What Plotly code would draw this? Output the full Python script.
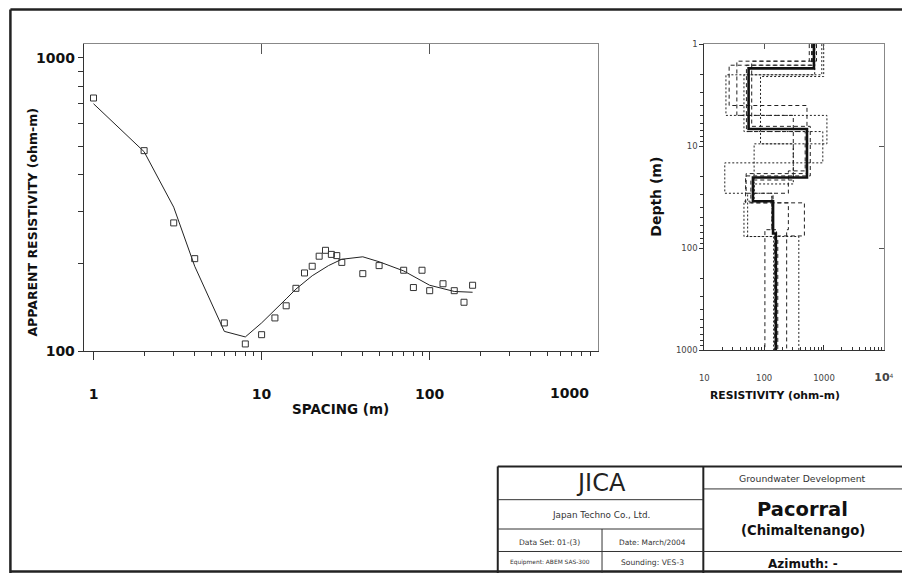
import plotly.graph_objects as go

# ---------------- data ----------------
spacing = [1, 2, 3, 4, 6, 8, 10, 12, 14, 16, 18, 20, 22, 24, 26, 28, 30, 40, 50, 70, 80, 90, 100, 120, 140, 160, 180]
rho_obs = [730, 483, 274, 207, 125, 106, 114, 130, 143, 164, 185, 195, 211, 221, 214, 212, 201, 184, 196, 189, 165, 189, 161, 170, 161, 147, 168]

curve_spacing = [1, 2, 3, 4, 6, 8, 10, 12, 14, 16, 20, 25, 30, 40, 50, 70, 100, 140, 180]
curve_rho = [698, 479, 310, 195, 117, 112, 125, 138, 151, 163, 181, 196, 206, 210, 202, 188, 168, 160, 159]

# layered model (resistivity per layer, depth of layer bottoms)
model_rho = [680, 55, 520, 65, 141, 157]
model_depth = [1.73, 6.8, 20.3, 34.7, 72]

# equivalent models
equiv_rho = [
    [620, 26, 520, 50, 135, 103],
    [920, 46, 956, 22, 53, 144],
    [750, 35, 307, 60, 254, 238],
    [990, 87, 307, 68, 46, 380],
    [568, 62, 590, 49, 471, 169],
    [700, 23, 1120, 68, 135, 160],
    [640, 50.6, 485, 254, 141, 150],
]
equiv_depth = [
    [1.61, 4.0, 18.6, 29, 66],
    [2.0, 7.2, 14.6, 29, 77],
    [1.47, 5.0, 21.5, 36, 66],
    [2.08, 9.5, 23.5, 34.7, 77],
    [1.47, 6.4, 19.6, 36, 76],
    [2.0, 5.0, 9.5, 29, 66],
    [1.61, 7.2, 17.5, 29, 72],
]
depth_top, depth_bottom = 1, 1000

left_xticks = [1, 10, 100]
left_xtick_labels = ["1", "10", "100", "1000"]
left_yticks = [100, 1000]
left_ytick_labels = ["100", "1000"]
right_xticks = [10, 100, 1000, 10000]
right_xtick_labels = ["10", "100", "1000",
                      "<span style='font-size:11px;font-weight:bold'>10</span><sup>4</sup>"]
right_yticks = [1, 10, 100, 1000]
right_ytick_labels = ["1", "10", "100", "1000"]

# ---------------- helpers ----------------
W, H = 912, 581
FONT = "DejaVu Sans"
INK = "#222"


def fx(p):
    return p / W


def fy(p):
    return 1 - p / H


def minors(decades):
    out = []
    for d in decades:
        out += [k * d for k in range(2, 10)]
    return out


def stair(rhos, depths):
    bounds = [depth_top] + list(depths) + [depth_bottom]
    xs, ys = [], []
    for i, r in enumerate(rhos):
        xs += [r, r]
        ys += [bounds[i], bounds[i + 1]]
    return xs, ys


fig = go.Figure()

# ---- left: sounding curve ----
fig.add_trace(go.Scatter(x=curve_spacing, y=curve_rho, mode="lines",
                         line=dict(color=INK, width=1), xaxis="x", yaxis="y",
                         showlegend=False, hoverinfo="skip"))
fig.add_trace(go.Scatter(x=spacing, y=rho_obs, mode="markers",
                         marker=dict(symbol="square-open", size=6, color="#333",
                                     line=dict(width=1, color="#333")),
                         xaxis="x", yaxis="y", showlegend=False))
fig.add_trace(go.Scatter(x=[], y=[], xaxis="x2", yaxis="y2", showlegend=False))

# ---- right: layered models ----
dash_styles = ["4px,3px", "2px,2px"]
for i, (rr, dd) in enumerate(zip(equiv_rho, equiv_depth)):
    xs, ys = stair(rr, dd)
    fig.add_trace(go.Scatter(x=xs, y=ys, mode="lines",
                             line=dict(color=INK, width=1, dash=dash_styles[i % 2]),
                             xaxis="x3", yaxis="y3", showlegend=False, hoverinfo="skip"))
xs, ys = stair(model_rho, model_depth)
fig.add_trace(go.Scatter(x=xs, y=ys, mode="lines", line=dict(color="#111", width=2.6),
                         xaxis="x3", yaxis="y3", showlegend=False))
fig.add_trace(go.Scatter(x=[], y=[], xaxis="x4", yaxis="y4", showlegend=False))

LX = [fx(80), fx(602.7)]
LY = [fy(354.3), fy(40)]
RX = [fx(711), fx(893.5)]
RY = [fy(353), fy(40)]

lx_range = [-0.0585, 3.0]
ly_range = [2.0, 3.047]
rx_range = [1, 4]
ry_range = [3, 0]

bold14 = dict(family=FONT, size=14, color="#111", weight="bold")
small = dict(family=FONT, size=8.5, color="#444")

fig.update_layout(
    width=W, height=H, margin=dict(l=0, r=0, t=0, b=0),
    paper_bgcolor="white", plot_bgcolor="white",
    font=dict(family=FONT, color="#111"),
    xaxis=dict(domain=LX, type="log", range=lx_range, anchor="y",
               showline=True, linecolor="#333", linewidth=1, showgrid=False, zeroline=False,
               tickmode="array", tickvals=left_xticks, ticktext=left_xtick_labels[:3],
               ticks="outside", ticklen=8, tickcolor="#333", tickfont=bold14,
               ticklabelstandoff=22,
               minor=dict(tickmode="array", tickvals=minors([1, 10, 100]),
                          ticks="outside", ticklen=4, tickcolor="#333", showgrid=False)),
    yaxis=dict(domain=LY, type="log", range=ly_range, anchor="x",
               showline=True, linecolor="#333", linewidth=1, showgrid=False, zeroline=False,
               tickmode="array", tickvals=left_yticks, ticktext=left_ytick_labels,
               ticks="outside", ticklen=5, tickcolor="#333", tickfont=bold14,
               minor=dict(tickmode="array", tickvals=minors([100]),
                          ticks="outside", ticklen=5, tickcolor="#333", showgrid=False)),
    xaxis2=dict(overlaying="x", side="top", anchor="y", type="log", range=lx_range,
                showline=True, linecolor="#888", linewidth=1, showgrid=False, zeroline=False,
                tickmode="array", tickvals=[10, 100], ticks="inside", ticklen=10,
                tickcolor="#555", showticklabels=False),
    yaxis2=dict(overlaying="y", side="right", anchor="x", type="log", range=ly_range,
                showline=True, linecolor="#888", linewidth=1, showgrid=False, zeroline=False,
                ticks="", showticklabels=False),
    xaxis3=dict(domain=RX, type="log", range=rx_range, anchor="y3",
                showline=True, linecolor="#333", linewidth=1, showgrid=False, zeroline=False,
                tickmode="array", tickvals=right_xticks, ticktext=right_xtick_labels,
                ticks="inside", ticklen=5, tickcolor="#333", tickfont=small,
                ticklabelstandoff=20,
                minor=dict(tickmode="array", tickvals=minors([10, 100, 1000]),
                           ticks="inside", ticklen=3, tickcolor="#333", showgrid=False)),
    yaxis3=dict(domain=RY, type="log", range=ry_range, anchor="x3",
                showline=True, linecolor="#333", linewidth=1, showgrid=False, zeroline=False,
                tickmode="array", tickvals=right_yticks, ticktext=right_ytick_labels,
                ticks="outside", ticklen=4, tickcolor="#333", tickfont=small,
                minor=dict(tickmode="array", tickvals=minors([1, 10, 100]),
                           ticks="outside", ticklen=3, tickcolor="#333", showgrid=False)),
    xaxis4=dict(overlaying="x3", side="top", anchor="y3", type="log", range=rx_range,
                showline=True, linecolor="#888", linewidth=1, showgrid=False, zeroline=False,
                tickmode="array", tickvals=[100, 1000], ticks="inside", ticklen=5,
                tickcolor="#555", showticklabels=False),
    yaxis4=dict(overlaying="y3", side="right", anchor="x3", type="log", range=ry_range,
                showline=True, linecolor="#888", linewidth=1, showgrid=False, zeroline=False,
                tickmode="array", tickvals=[10, 100], ticks="inside", ticklen=5,
                tickcolor="#555", showticklabels=False),
)


def ann(text, x, y, size, bold=False, angle=0, color="#111"):
    fig.add_annotation(text=text, x=fx(x), y=fy(y), xref="paper", yref="paper",
                       xanchor="center", yanchor="middle", showarrow=False, textangle=angle,
                       font=dict(family=FONT, size=size, color=color,
                                 weight="bold" if bold else "normal"))


ann(left_xtick_labels[3], 574, 397, 14, bold=True)
ann("APPARENT RESISTIVITY (ohm-m)", 27, 223, 12.5, bold=True, angle=-90)
ann("SPACING (m)", 341, 413, 13.5, bold=True)
ann("Depth (m)", 662, 196, 14, bold=True, angle=-90)
ann("RESISTIVITY (ohm-m)", 783, 399, 10.8, bold=True)

# title block texts
ann("JICA", 605.5, 489, 24, color="#222")
ann("Japan Techno Co., Ltd.", 605.5, 522, 8.8, color="#333")
ann("Data Set: 01-(3)", 554, 550, 7.6, color="#333")
ann("Date: March/2004", 658, 550, 7.4, color="#333")
ann("Equipment: ABEM SAS-300", 554, 570, 5.9, color="#333")
ann("Sounding: VES-3", 658, 570, 7.6, color="#333")
ann("Groundwater Development", 811, 484, 9.3, color="#333")
ann("Pacorral", 811, 516, 19.5, bold=True)
ann("(Chimaltenango)", 811, 538, 13.2, bold=True)
ann("Azimuth: -", 811, 572, 12, bold=True)


def line(x0, y0, x1, y1, w=1, c="#333"):
    fig.add_shape(type="line", xref="paper", yref="paper",
                  x0=fx(x0), y0=fy(y0), x1=fx(x1), y1=fy(y1),
                  line=dict(color=c, width=w))


# outer frame (left, top, bottom edges) kept inside the page
line(5.5, 4.5, 912, 4.5, 2.5, "#222")
line(5.5, 4.5, 5.5, 581, 2.5, "#222")
line(5.5, 579.5, 912, 579.5, 2.5, "#222")
# title block
line(501, 472, 912, 472, 2, "#222")
line(501, 472, 501, 581, 2, "#222")
line(710, 472, 710, 581, 2, "#222")
line(501, 506, 710, 506, 1)
line(501, 536, 710, 536, 1)
line(501, 559, 912, 559, 1)
line(607, 536, 607, 581, 1)
line(710, 495, 912, 495, 1)

fig.write_html("out.html", config={"displayModeBar": False, "staticPlot": True},
               post_script="document.body.style.margin='0';document.body.style.overflow='hidden';")
